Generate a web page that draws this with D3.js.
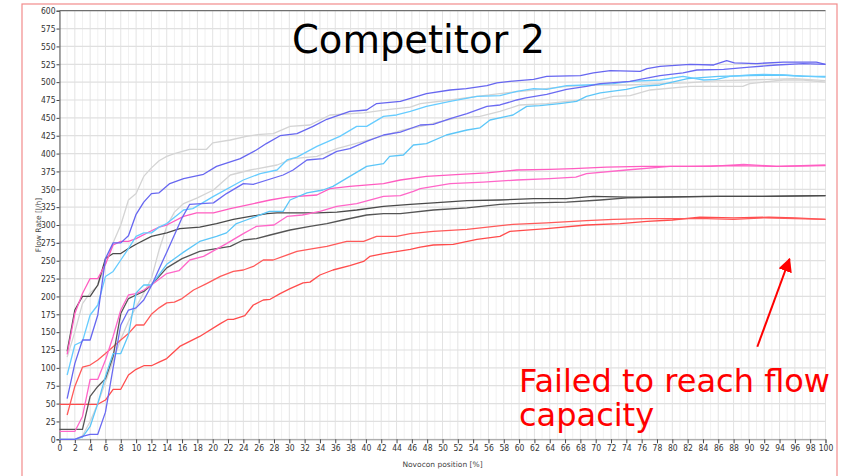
<!DOCTYPE html>
<html>
<head>
<meta charset="utf-8">
<script src="https://cdn.jsdelivr.net/npm/d3@7"></script>
<style>
  body { margin: 0; background: #fff; }
  .tick-label { font-family: "Liberation Sans Narrow", "DejaVu Sans Condensed", sans-serif; font-size: 8.5px; fill: #333; }
  .axis-label { font-family: "DejaVu Sans", sans-serif; font-size: 7.5px; fill: #444; }
  .flow-line { fill: none; stroke-width: 1.3; stroke-linejoin: round; }
</style>
</head>
<body>
<div id="chart"></div>
<script>
// tick labels
var xTicks = d3.range(0, 101, 2)
var yTicks = d3.range(0, 601, 25)

// flow rate [l/h] vs Novocon position [%] as [position, flow]
var redLow = [[0,49],[5,49],[6,55],[7,70],[8,70],[9,90],[10,98],[11,103],[12,103],[13,108],[14,113],[15.7,130],[18.3,144],[21,162],[22,168],[22.7,168],[24.2,173],[25.3,188],[26.6,195],[27.5,196],[28.8,204],[30.1,211],[31.8,219],[32.7,220],[34,230],[35.7,237],[37.9,243],[39.7,249],[40.5,256],[42.3,260],[45.8,266],[47.1,269],[48.8,272],[51.4,273],[54.5,280],[57.5,284],[58.8,291],[63.6,295],[68.8,300],[73.2,302],[76.7,305],[80,307],[83.6,311],[88,310],[92.6,311],[96,310],[100,308]]
var redUp = [[1,34],[2,74],[3,101],[4,104],[5,111],[6,120],[8,139],[9,148],[10,160],[11,160],[12,175],[13,184],[14,191],[15,192],[16,197],[17.5,209],[19.2,218],[21,228],[22.7,235],[24,237],[25.3,242],[26.6,251],[27.9,251],[29.2,256],[31,263],[33.1,267],[34.9,270],[37.5,277],[39.7,277],[41.4,284],[44,284],[45.8,288],[48.8,291],[53.2,294],[59.2,301],[63.6,303],[68.8,306],[72.3,308],[76.7,309],[84.5,309],[88,308],[92,310],[96,309],[100,308]]
var darkLow = [[0,14],[3,14],[4,60],[5,74],[6,85],[7,116],[8,176],[9,197],[10,202],[11,207],[12,216],[14,240],[16,253],[18.3,263],[20.5,267],[22.3,270],[24,279],[25.7,281],[27.5,286],[30.1,293],[32.7,298],[34.9,302],[37,307],[40.1,314],[42.3,316],[44.5,316],[48.8,321],[53.2,324],[57.5,329],[61.9,331],[66.2,332],[70.6,335],[74.1,338],[78.4,339],[84,340],[90,340],[100,341]]
var darkUp = [[1,123],[2,181],[3,200],[4,200],[5,216],[6,253],[7,260],[8,260],[9,267],[10,273],[12,284],[14,289],[15.7,295],[18.3,297],[20.5,302],[22.7,308],[24.9,312],[27.1,316],[28.4,317],[33.6,317],[36.2,318],[38.8,321],[42.3,326],[45.8,329],[48.8,331],[53.2,334],[57.5,335],[61.9,337],[66.2,337],[69.7,340],[74.1,339],[78.4,339],[86,340],[92,340],[100,341]]
var pinkLow = [[0,11],[2,11],[3,32],[4,84],[5,84],[6,111],[7,144],[8,181],[9,202],[10,204],[11,209],[12,216],[14,232],[15.6,236],[17,251],[18.8,256],[21.8,274],[24,288],[25.7,298],[28,300],[29.7,312],[31.7,314],[34,319],[36.2,326],[38.8,330],[42.3,340],[44.5,341],[46.2,347],[47.1,351],[51,358],[55.3,360],[59.7,363],[64,365],[67.4,367],[68.8,372],[74,377],[79.7,382],[84.9,382],[89.3,385],[93.6,382],[100,384]]
var pinkUp = [[1,119],[2,176],[3,204],[4,225],[5,225],[6,245],[7,272],[8,277],[9,277],[10,281],[12,292],[13,297],[14,300],[16.2,312],[17.9,317],[20.1,317],[22.3,323],[24.9,329],[27.5,335],[29.7,339],[33.6,342],[35.3,351],[37.9,354],[42.3,358],[44.5,363],[47.9,368],[52.3,371],[55.8,373],[59.7,377],[64,378],[67.1,379],[71.4,381],[76.2,382],[82,382],[88,383],[94,382],[100,383]]
var lightBlueLow = [[0,0],[2,0],[3,3],[4,18],[5,50],[6,88],[7,120],[8,120],[9,146],[10,205],[11,216],[12,216],[14,245],[16.2,262],[18.3,277],[20.5,284],[21.8,289],[23.1,302],[24.4,307],[25.7,312],[27.4,319],[29.2,319],[30.1,335],[32.3,345],[34.4,349],[35.7,354],[37.9,368],[40.1,382],[42.3,386],[43.1,396],[44.9,398],[46.2,412],[47.9,414],[50.5,426],[53.2,433],[54.9,436],[56.2,447],[59.2,454],[61,466],[62.7,467],[65.3,470],[67.5,473],[68.8,480],[70.6,485],[74,490],[75.8,494],[78.4,496],[82,505],[86,508],[90,509],[94,510],[100,507]]
var lightBlueUp = [[1,90],[2,132],[3,137],[4,174],[5,188],[6,228],[7,235],[8,251],[9,267],[10,284],[11,289],[12,289],[13,297],[14,302],[16.2,321],[17.4,323],[20.1,340],[24,363],[26.2,372],[28.4,377],[29.7,391],[31,395],[33.6,410],[36.6,424],[38.8,438],[40.1,438],[42.3,452],[44,454],[45.8,459],[47.9,466],[51,473],[54.5,480],[57.5,481],[59.7,487],[61.9,491],[63.6,490],[66.2,495],[68.8,496],[72.3,498],[74.5,501],[78.4,503],[81.4,508],[84.1,503],[85.8,504],[87.5,508],[90.1,510],[91.9,511],[94.5,510],[97.1,508],[100,508]]
var blueLow = [[0,0],[2,0],[3,4],[4,7],[5,7],[6,38],[7,100],[8,160],[9,181],[10,184],[11,195],[12,215],[14,262],[16,310],[17,329],[20.1,331],[21.8,344],[24,358],[25.3,357],[29.2,370],[30.5,377],[32.3,391],[34.4,393],[36.2,403],[37.9,407],[40.1,417],[42.3,426],[44.5,430],[47.1,440],[48.8,441],[51,449],[53.2,456],[55.8,466],[57.5,468],[59.7,475],[60.9,478],[63.6,483],[66.2,490],[68.8,494],[70.6,498],[74.5,501],[75.8,504],[78.4,509],[81.4,513],[83.2,517],[86.7,518],[90.1,521],[93.6,524],[97.1,526],[100,525]]
var blueUp = [[1,57],[2,106],[3,139],[4,139],[5,174],[6,253],[7,275],[8,275],[9,285],[10,315],[11,332],[12,344],[13,345],[14.4,358],[16.2,365],[18.8,371],[20.5,382],[23.6,393],[25.7,405],[27,414],[28.8,425],[31,428],[33.1,438],[34.9,448],[37.9,459],[40.1,461],[41.4,470],[44.5,473],[47.9,484],[51,489],[53.1,491],[55.8,495],[57.1,499],[58.8,501],[61.9,504],[63.6,508],[68,509],[69.7,513],[71.9,516],[75.8,515],[76.7,519],[78.4,522],[82.3,525],[85.4,524],[87.1,530],[88.1,527],[91,526],[94.5,528],[98.8,528],[100,525]]
var greyLow = [[0,0],[2,0],[3,5],[4,25],[5,50],[6,80],[7,110],[8,140],[9,165],[10,185],[11,205],[12,225],[13,265],[14,298],[15,318],[16.2,330],[18,338],[20.1,349],[22.3,370],[24.9,377],[28.4,384],[30.5,393],[33.6,396],[36.2,407],[39.7,417],[42.7,426],[44.9,433],[47.9,440],[51.4,449],[54.9,452],[57.5,459],[60.1,468],[63.6,470],[67.1,474],[70.6,476],[72.3,480],[74.5,481],[77.1,489],[82.3,494],[89.2,494],[90.1,498],[94.5,503],[97.1,503],[100,500]]
var greyUp = [[1,115],[2,150],[3,190],[4,205],[5,215],[6,245],[7,275],[8,300],[9,335],[10,344],[11,368],[12,380],[13,390],[14,396],[15,400],[17,406],[19.2,406],[20,415],[22.3,419],[24.4,424],[26.2,427],[27.9,428],[30.1,438],[32.7,440],[35.3,454],[39.7,457],[43.1,462],[45.8,465],[47.1,470],[51,475],[54.5,480],[57.5,484],[61.9,489],[66.2,494],[70.6,496],[74.5,496],[78.4,498],[82,499],[86,502],[90,503],[96,505],[100,502]]

var seriesList = [
    {name: "greyLow", values: greyLow, color: "#d4d4d4"},
    {name: "greyUp", values: greyUp, color: "#d4d4d4"},
    {name: "redLow", values: redLow, color: "#ff4c4c"},
    {name: "redUp", values: redUp, color: "#ff5a5a"},
    {name: "darkLow", values: darkLow, color: "#555555"},
    {name: "darkUp", values: darkUp, color: "#4a4a4a"},
    {name: "pinkLow", values: pinkLow, color: "#ff66c8"},
    {name: "pinkUp", values: pinkUp, color: "#ff5cc0"},
    {name: "lightBlueLow", values: lightBlueLow, color: "#5cc6f8"},
    {name: "lightBlueUp", values: lightBlueUp, color: "#66ccff"},
    {name: "blueLow", values: blueLow, color: "#6a6af2"},
    {name: "blueUp", values: blueUp, color: "#6666f0"}
]

var W = 858, H = 476
var margin = {left: 59.5, right: 32.5, top: 10.7, bottom: 36.7}
var width = W - margin.left - margin.right
var height = H - margin.top - margin.bottom

var svg = d3.select("#chart").append("svg")
    .attr("width", W)
    .attr("height", H)

// outer frame
svg.append("rect")
    .attr("x", 22).attr("y", 4)
    .attr("width", 815).attr("height", 490)
    .attr("fill", "none")
    .attr("stroke", "#f28c8c")
    .attr("stroke-width", 1.2)

var g = svg.append("g")
    .attr("transform", "translate(" + margin.left + "," + margin.top + ")")

var x = d3.scaleLinear().domain([0, 100]).range([0, width])
var y = d3.scaleLinear().domain([0, 600]).range([height, 0])

// grid
g.append("g").selectAll("line")
    .data(d3.range(1, 100, 2))
    .enter().append("line")
        .attr("x1", d => x(d)).attr("x2", d => x(d))
        .attr("y1", 0).attr("y2", height)
        .attr("stroke", "#f1f1f1")

g.append("g").selectAll("line")
    .data(xTicks)
    .enter().append("line")
        .attr("x1", d => x(d)).attr("x2", d => x(d))
        .attr("y1", 0).attr("y2", height)
        .attr("stroke", "#e3e3e3")

g.append("g").selectAll("line")
    .data(yTicks)
    .enter().append("line")
        .attr("x1", 0).attr("x2", width)
        .attr("y1", d => y(d)).attr("y2", d => y(d))
        .attr("stroke", "#e0e0e0")
        .attr("stroke-width", 1.2)

// top border of the plot
g.append("line")
    .attr("x1", 0).attr("x2", width)
    .attr("y1", 0).attr("y2", 0)
    .attr("stroke", "#555")

// axes
var xAxis = d3.axisBottom(x).tickValues(xTicks).tickSize(4).tickPadding(2)
var yAxis = d3.axisLeft(y).tickValues(yTicks).tickSize(3).tickPadding(1)

var xAxisCall = g.append("g")
    .attr("transform", "translate(0," + height + ")")
    .call(xAxis)
xAxisCall.select(".domain").attr("stroke", "#999")
xAxisCall.selectAll(".tick line").attr("stroke", "#444")
xAxisCall.selectAll("text").attr("class", "tick-label")

var yAxisCall = g.append("g").call(yAxis)
yAxisCall.select(".domain").attr("stroke", "#555")
yAxisCall.selectAll(".tick line").attr("stroke", "#444")
yAxisCall.selectAll("text").attr("class", "tick-label")

g.append("text")
    .attr("class", "axis-label")
    .attr("x", width / 2)
    .attr("y", height + 28)
    .attr("text-anchor", "middle")
    .text("Novocon position [%]")

g.append("text")
    .attr("class", "axis-label")
    .attr("transform", "rotate(-90)")
    .attr("x", -(225 - margin.top))
    .attr("y", -19)
    .attr("text-anchor", "middle")
    .text("Flow Rate [l/h]")

// lines
var line = d3.line()
    .x(d => x(d[0]))
    .y(d => y(d[1]))

g.append("g").selectAll("path")
    .data(seriesList)
    .enter().append("path")
        .attr("class", "flow-line")
        .attr("d", d => line(d.values))
        .attr("stroke", d => d.color)

// title
svg.append("text")
    .attr("x", 418.5)
    .attr("y", 53)
    .attr("text-anchor", "middle")
    .attr("font-family", "DejaVu Sans, sans-serif")
    .attr("font-size", 38.5)
    .attr("fill", "#000")
    .text("Competitor 2")

// annotation
var note = svg.append("text")
    .attr("font-family", "DejaVu Sans, sans-serif")
    .attr("font-size", 32)
    .attr("fill", "#ff0000")
note.append("tspan").attr("x", 519).attr("y", 392).text("Failed to reach flow")
note.append("tspan").attr("x", 519).attr("y", 426).text("capacity")

svg.append("defs").append("marker")
    .attr("id", "head")
    .attr("viewBox", "0 0 10 10")
    .attr("refX", 9).attr("refY", 5)
    .attr("markerWidth", 7).attr("markerHeight", 7)
    .attr("markerUnits", "strokeWidth")
    .attr("orient", "auto")
    .append("path")
        .attr("d", "M0,0 L10,5 L0,10 Z")
        .attr("fill", "#ff0000")

g.append("line")
    .attr("x1", x(91.1)).attr("y1", y(129.6))
    .attr("x2", x(95.3)).attr("y2", y(252.4))
    .attr("stroke", "#ff0000")
    .attr("stroke-width", 2)
    .attr("marker-end", "url(#head)")
</script>
</body>
</html>
